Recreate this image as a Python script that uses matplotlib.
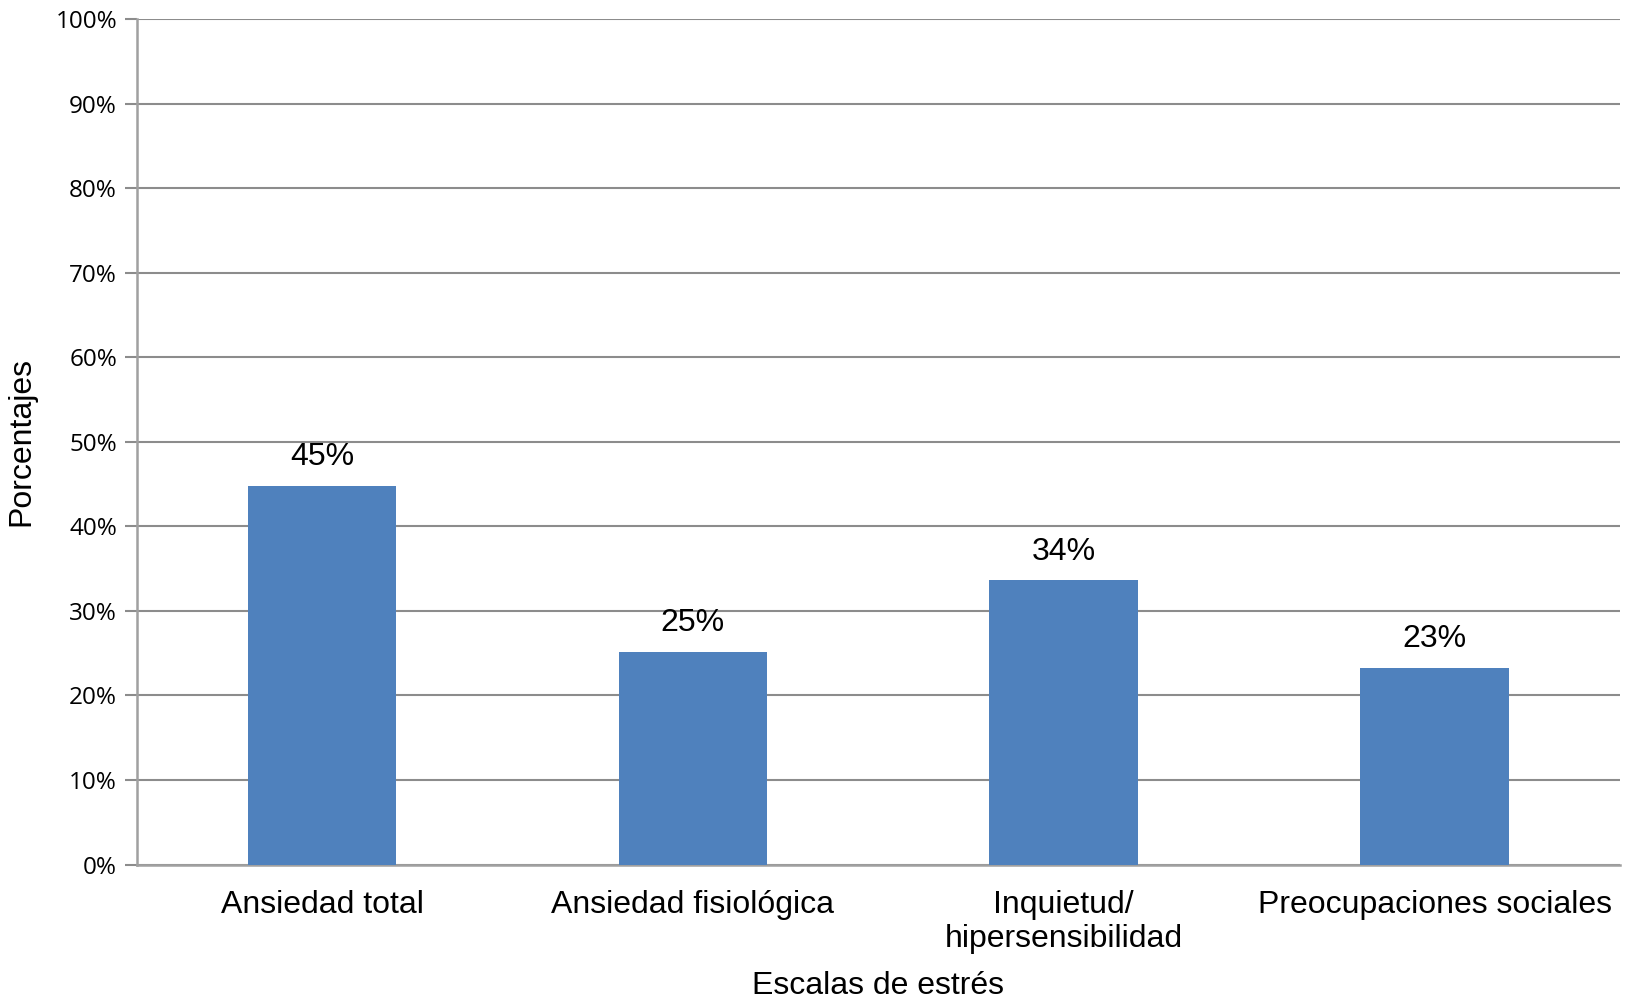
import matplotlib as mpl
mpl.use('Agg')
import matplotlib.pyplot as plt
from matplotlib.ticker import FuncFormatter, MultipleLocator

categorias = ['Ansiedad total', 'Ansiedad fisiológica', 'Inquietud/\nhipersensibilidad', 'Preocupaciones sociales']
porcentajes = [44.8, 25.2, 33.6, 23.3]

azul = '#4f81bd'
gris = '#8c8c8c'

fig = plt.figure(figsize=(16.33, 10), dpi=100)
ax = fig.add_axes([0.0836, 0.1354, 0.9084, 0.8456])

x = range(len(categorias))
barras = ax.bar(x, porcentajes, width=0.4, color=azul, zorder=3)

for b, v in zip(barras, porcentajes):
    ax.annotate('{:.0f}%'.format(v), (b.get_x() + b.get_width() / 2, v),
                xytext=(0, 10), textcoords='offset points', ha='center', va='bottom',
                fontsize=23, family='Liberation Sans', color='black')

ax.set_xlim(-0.5, len(categorias) - 0.5)
ax.set_ylim(0, 100)
ax.yaxis.set_major_locator(MultipleLocator(10))
ax.yaxis.set_major_formatter(FuncFormatter(lambda v, p: '{:.0f}%'.format(v)))
ax.grid(axis='y', color=gris, linewidth=1.5, zorder=0)

ax.set_xticks(list(x))
ax.set_xticklabels(categorias, fontsize=23, family='Liberation Sans')
ax.tick_params(axis='x', length=0, pad=18)
ax.tick_params(axis='y', length=9, width=1.5, color=gris, labelsize=17.5, pad=5)
for t in ax.get_yticklabels():
    t.set_family('Open Sans')

for s in ['top', 'right']:
    ax.spines[s].set_visible(False)
for s in ['left', 'bottom']:
    ax.spines[s].set_color('#a0a0a0')
    ax.spines[s].set_linewidth(1.8)

ax.set_xlabel('Escalas de estrés', fontsize=23, family='Liberation Sans', labelpad=12)
ax.set_ylabel('Porcentajes', fontsize=23, family='Liberation Sans', labelpad=14)

plt.savefig('out.png', dpi=100)
